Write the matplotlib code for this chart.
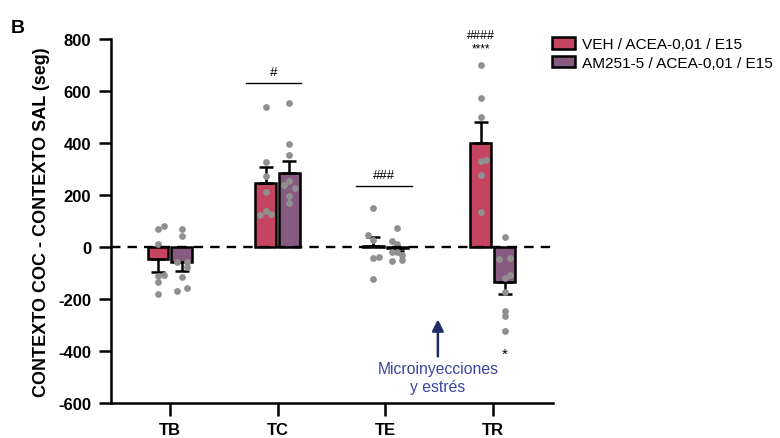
import numpy as np
import matplotlib
matplotlib.use("Agg")
import matplotlib.pyplot as plt
from matplotlib.patches import Patch

plt.rcParams['font.family'] = ['Liberation Sans', 'DejaVu Sans']
plt.rcParams['axes.unicode_minus'] = False

groups = ['TB', 'TC', 'TE', 'TR']
labels = ['VEH / ACEA-0,01 / E15', 'AM251-5 / ACEA-0,01 / E15']

veh_mean = [-46, 246, 5, 400]
veh_sem = [50, 62, 33, 80]
am_mean = [-58, 285, -5, -135]
am_sem = [34, 46, 12, 46]

veh_pts = [
    [70, 80, 12, -110, -108, -135, -183],
    [537, 326, 274, 213, 123, 140, 127],
    [150, 44, 25, -42, -37, -123],
    [700, 572, 499, 330, 336, 278, 133],
]
am_pts = [
    [67, 43, -57, -59, -77, -115, -168, -158],
    [553, 396, 355, 238, 255, 226, 197, 169],
    [73, 21, 11, -20, -20, -31, -50, -56],
    [37, -46, -42, -120, -108, -174, -245, -264, -322],
]

# small horizontal spread of the dots (data units)
veh_jit = [
    [0, 0.055, 0, 0, 0.055, 0, 0],
    [0, 0, 0, 0, -0.05, 0, 0.05],
    [0, -0.05, 0, 0, 0.055, 0],
    [0, 0, 0, 0, 0.05, 0, 0],
]
am_jit = [
    [0, 0, -0.05, 0.05, 0.05, 0, -0.05, 0.05],
    [0, 0, 0, -0.05, 0, 0.05, 0, 0],
    [0, -0.05, 0, -0.05, 0, 0.05, 0.05, -0.05],
    [0, -0.05, 0.05, 0, 0.05, 0, 0, 0, 0],
]

red = '#c54560'
purple = '#875a80'
dotc = '#909090'

fig = plt.figure(figsize=(7.8, 4.39), dpi=100)
ax = fig.add_axes([0.142, 0.08, 0.567, 0.829])

x = np.arange(len(groups))
off = 0.111
w = 0.195

for i in range(len(groups)):
    for xc, m, s, col, pts, jit in [(x[i] - off, veh_mean[i], veh_sem[i], red, veh_pts[i], veh_jit[i]),
                                    (x[i] + off, am_mean[i], am_sem[i], purple, am_pts[i], am_jit[i])]:
        ax.bar(xc, m, width=w, color=col, edgecolor='black', linewidth=1.8, zorder=2)
        if m >= 0:
            yerr = [[0], [s]]
        else:
            yerr = [[s], [0]]
        ax.errorbar(xc, m, yerr=yerr, fmt='none', ecolor='black', elinewidth=1.8,
                    capsize=5, capthick=1.8, zorder=3)
        ax.scatter(xc + np.array(jit), pts, s=24, color=dotc, zorder=4, linewidths=0)

ax.axhline(0, color='black', linestyle=(0, (4, 3)), linewidth=1.7, zorder=5)

# significance marks
ax.plot([0.706, 1.216], [631, 631], color='black', lw=1.0)
ax.text(0.96, 648, '#', ha='center', va='bottom', fontsize=9.5)
ax.plot([1.727, 2.247], [235, 235], color='black', lw=1.0)
ax.text(1.987, 252, '###', ha='center', va='bottom', fontsize=9.5)
ax.text(3 - off, 815, '####', ha='center', va='center', fontsize=9)
ax.text(3 - off, 762, '****', ha='center', va='center', fontsize=8.5)
ax.text(3 + off, -410, '*', ha='center', va='center', fontsize=11)

# arrow + note
ax.annotate('', xy=(2.49, -268), xytext=(2.49, -432),
            arrowprops=dict(arrowstyle='-|>', color='#1f2d6b', lw=1.8, mutation_scale=17))
ax.text(2.49, -440, 'Microinyecciones\ny estrés', ha='center', va='top',
        fontsize=11.3, color='#3a45a0', linespacing=1.25)

ax.set_xlim(-0.55, 3.56)
ax.set_ylim(-600, 800)
ax.set_yticks(range(-600, 801, 200))
ax.set_xticks(x)
ax.set_xticklabels(groups)
for sp in ['top', 'right']:
    ax.spines[sp].set_visible(False)
for sp in ['left', 'bottom']:
    ax.spines[sp].set_linewidth(1.8)
ax.tick_params(axis='both', direction='out', length=9, width=1.8, labelsize=12, pad=5)
for t in ax.get_xticklabels() + ax.get_yticklabels():
    t.set_fontweight('bold')
ax.set_ylabel('CONTEXTO COC - CONTEXTO SAL (seg)', fontsize=13, fontweight='bold', labelpad=6)

handles = [Patch(facecolor=red, edgecolor='black', linewidth=1.8),
           Patch(facecolor=purple, edgecolor='black', linewidth=1.8)]
fig.legend(handles, labels, loc='upper left', bbox_to_anchor=(0.708, 0.914), frameon=False,
           fontsize=11.1, handlelength=1.45, handleheight=0.8, handletextpad=0.45,
           labelspacing=0.3, borderaxespad=0, borderpad=0)

fig.text(0.014, 0.955, 'B', fontsize=14, fontweight='bold', va='top', ha='left')

fig.savefig('out.png', dpi=100)
